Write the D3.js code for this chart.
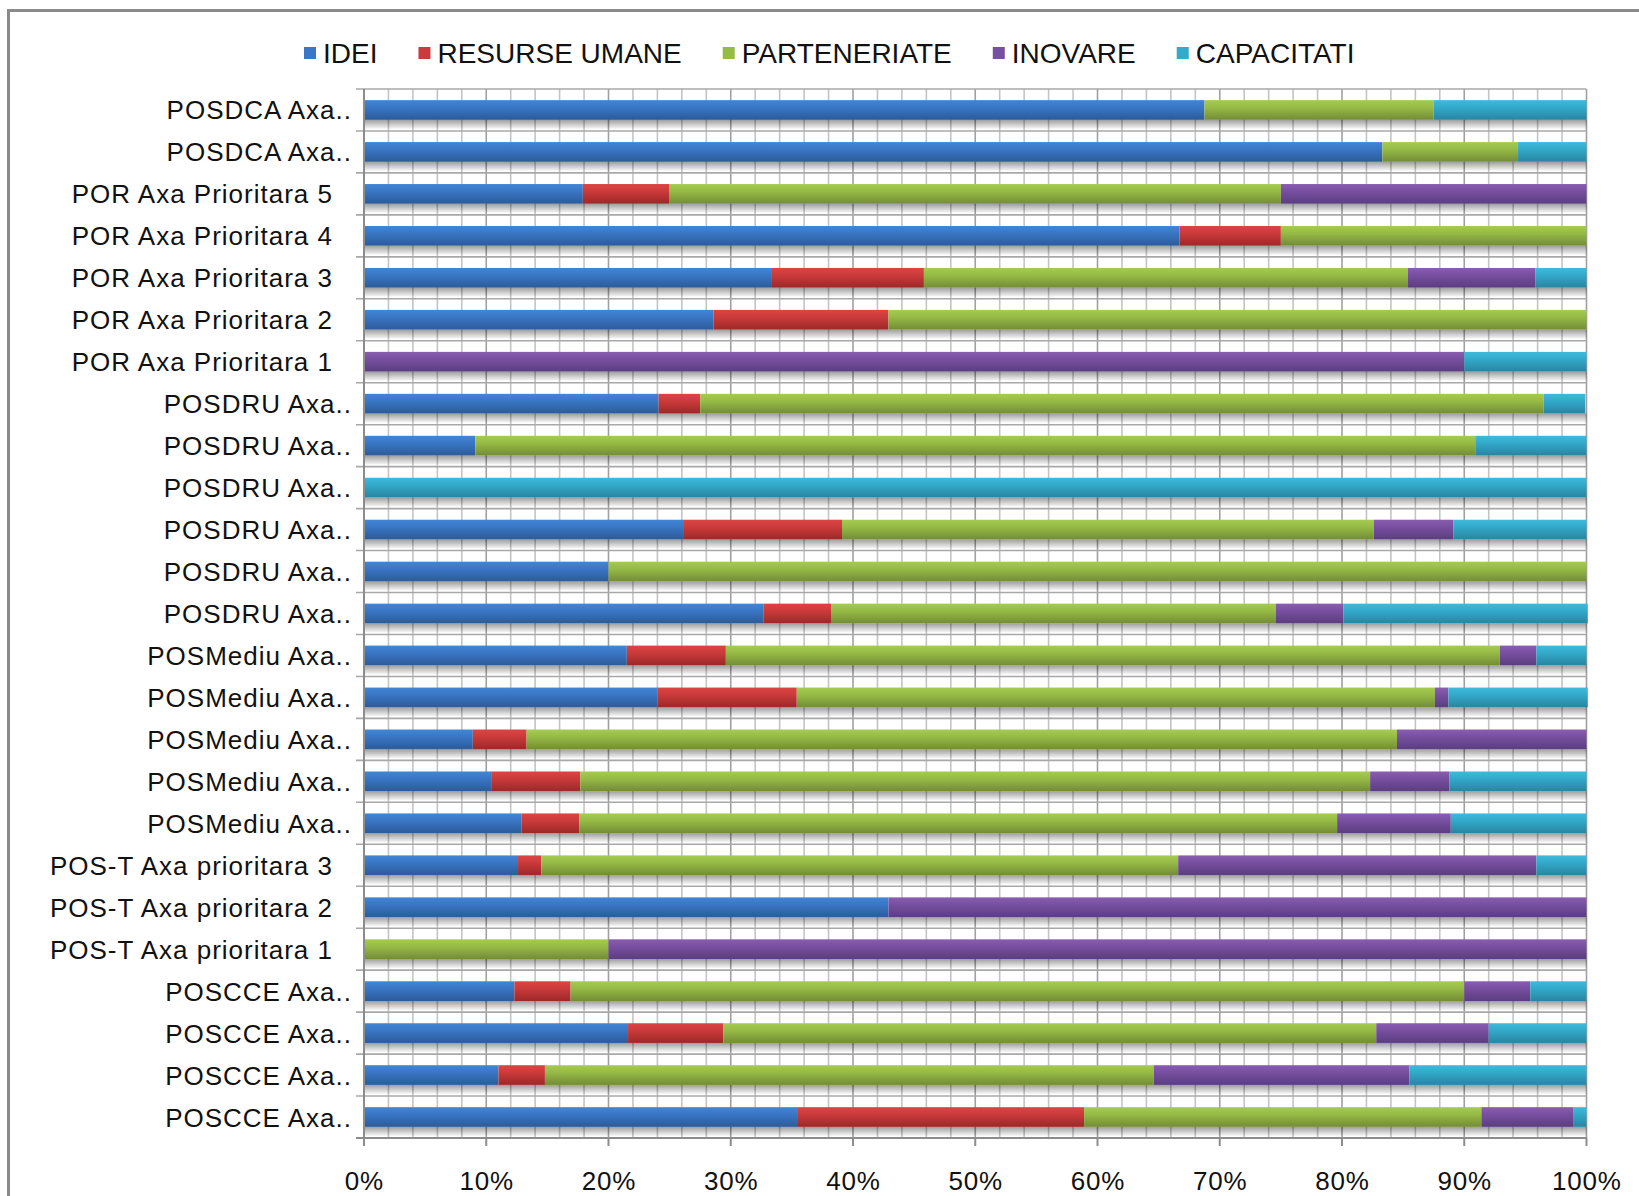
<!DOCTYPE html>
<html><head><meta charset="utf-8">
<script src="https://cdn.jsdelivr.net/npm/d3@7"></script>
<style>
html,body{margin:0;padding:0;background:#fff;}
svg{display:block;}
text{font-family:"Liberation Sans",Arial,sans-serif;fill:#111;}
</style></head>
<body><svg id="chart" width="1639" height="1196"></svg>
<script>
const categories = [
  "POSDCA Axa..","POSDCA Axa..","POR Axa Prioritara 5","POR Axa Prioritara 4","POR Axa Prioritara 3",
  "POR Axa Prioritara 2","POR Axa Prioritara 1","POSDRU Axa..","POSDRU Axa..","POSDRU Axa..",
  "POSDRU Axa..","POSDRU Axa..","POSDRU Axa..","POSMediu Axa..","POSMediu Axa..",
  "POSMediu Axa..","POSMediu Axa..","POSMediu Axa..","POS-T Axa prioritara 3","POS-T Axa prioritara 2",
  "POS-T Axa prioritara 1","POSCCE Axa..","POSCCE Axa..","POSCCE Axa..","POSCCE Axa.."
];
const seriesNames = ["IDEI","RESURSE UMANE","PARTENERIATE","INOVARE","CAPACITATI"];
const idei          = [68.75,83.3,17.9,66.7,33.3,28.6,0,24.1,9.1,0,26.1,20,32.7,21.5,24.0,8.9,10.4,12.9,12.6,42.9,0,12.3,21.6,11.0,35.5];
const resurseUmane  = [0,0,7.1,8.3,12.5,14.3,0,3.4,0,0,13.0,0,5.5,8.1,11.4,4.4,7.3,4.7,1.9,0,0,4.6,7.8,3.8,23.4];
const parteneriate  = [18.75,11.1,50,25,39.6,57.1,0,69.0,81.8,0,43.5,80,36.4,63.3,52.2,71.2,64.6,62.0,52.1,0,20,73.1,53.4,49.8,32.5];
const inovare       = [0,0,25,0,10.4,0,90,0,0,0,6.5,0,5.5,3.0,1.1,15.5,6.5,9.3,29.3,57.1,80,5.4,9.2,20.9,7.5];
const capacitati    = [12.5,5.6,0,0,4.2,0,10,3.4,9.1,100,10.9,0,20,4.1,11.4,0,11.2,11.1,4.1,0,0,4.6,8.0,14.5,1.1];
const xTicks = [0,10,20,30,40,50,60,70,80,90,100];

const colors = {
  "IDEI":["#4186d6","#3a77c6","#2c5b98"],
  "RESURSE UMANE":["#dd4444","#cc3b3b","#9c2828"],
  "PARTENERIATE":["#a6cb52","#97bc46","#738c36"],
  "INOVARE":["#8a5db1","#7850a1","#5b3d80"],
  "CAPACITATI":["#3fbadb","#33aacb","#2885a1"]
};
const legendColors = {"IDEI":"#3a77c6","RESURSE UMANE":"#cc3b3b","PARTENERIATE":"#97bc46","INOVARE":"#7850a1","CAPACITATI":"#33aacb"};

const svg = d3.select("#chart");
const defs = svg.append("defs");
seriesNames.forEach((s,i)=>{
  const g = defs.append("linearGradient").attr("id","g"+i).attr("x1",0).attr("y1",0).attr("x2",0).attr("y2",1);
  g.append("stop").attr("offset","0%").attr("stop-color",colors[s][0]);
  g.append("stop").attr("offset","35%").attr("stop-color",colors[s][1]);
  g.append("stop").attr("offset","100%").attr("stop-color",colors[s][2]);
});
const sh = defs.append("linearGradient").attr("id","shadow").attr("x1",0).attr("y1",0).attr("x2",0).attr("y2",1);
sh.append("stop").attr("offset","0%").attr("stop-color","#000").attr("stop-opacity",0.38);
sh.append("stop").attr("offset","100%").attr("stop-color","#000").attr("stop-opacity",0.03);

// outer border
svg.append("rect").attr("x",8.5).attr("y",10.5).attr("width",1700).attr("height",1300)
  .attr("fill","none").attr("stroke","#8a8a8a").attr("stroke-width",3);

const pLeft=364, pRight=1586.5, pTop=89, pBottom=1138;
const x = d3.scaleLinear().domain([0,100]).range([pLeft,pRight]);
const y = d3.scaleBand().domain(d3.range(categories.length)).range([pTop,pBottom]).paddingInner(0.53).paddingOuter(0.265);
const step = y.step();

// gridlines vertical
const minor = d3.range(0,101,2);
svg.append("g").selectAll("line").data(minor).join("line")
  .attr("x1",d=>x(d)).attr("x2",d=>x(d)).attr("y1",pTop).attr("y2",pBottom)
  .attr("stroke",d=>d%10===0?"#a0a0a0":"#c4c4c4").attr("stroke-width",1.6);
// horizontal gridlines at band boundaries
const bounds = d3.range(categories.length+1).map(i=>pTop+i*step);
svg.append("g").selectAll("line").data(bounds).join("line")
  .attr("x1",pLeft-8).attr("x2",pRight).attr("y1",d=>d).attr("y2",d=>d)
  .attr("stroke","#a8a8a8").attr("stroke-width",1.6);

// data table
const table = categories.map((c,i)=>({i, "IDEI":idei[i],"RESURSE UMANE":resurseUmane[i],"PARTENERIATE":parteneriate[i],"INOVARE":inovare[i],"CAPACITATI":capacitati[i]}));
const stack = d3.stack().keys(seriesNames)(table);

// shadows
svg.append("g").selectAll("rect").data(table).join("rect")
  .attr("x",x(0)).attr("width",x(100)-x(0))
  .attr("y",d=>y(d.i)+y.bandwidth()).attr("height",9)
  .attr("fill","url(#shadow)");

// bars
stack.forEach((layer,si)=>{
  svg.append("g").selectAll("rect").data(layer.filter(d=>d[1]-d[0]>0)).join("rect")
    .attr("x",d=>x(d[0])).attr("width",d=>x(d[1])-x(d[0]))
    .attr("y",d=>y(d.data.i)).attr("height",y.bandwidth())
    .attr("fill","url(#g"+si+")");
});

// axes lines
svg.append("line").attr("x1",pLeft).attr("x2",pLeft).attr("y1",pTop).attr("y2",pBottom+8).attr("stroke","#8c8c8c").attr("stroke-width",2);
svg.append("line").attr("x1",pLeft-8).attr("x2",pRight).attr("y1",pBottom).attr("y2",pBottom).attr("stroke","#8c8c8c").attr("stroke-width",2);
svg.append("g").selectAll("line").data(xTicks).join("line")
  .attr("x1",d=>x(d)).attr("x2",d=>x(d)).attr("y1",pBottom).attr("y2",pBottom+8)
  .attr("stroke","#8c8c8c").attr("stroke-width",2);

// x tick labels
svg.append("g").selectAll("text").data(xTicks).join("text")
  .attr("x",d=>x(d)+0.4).attr("y",1190).attr("text-anchor","middle")
  .style("font-size","26px").style("letter-spacing","0.8px")
  .text(d=>d+"%");

// category labels
svg.append("g").selectAll("text").data(categories).join("text")
  .attr("x",d=>d.endsWith("..")?352:333)
  .attr("y",(d,i)=>y(i)+y.bandwidth()/2+9.5)
  .attr("text-anchor","end")
  .style("font-size","26px").style("letter-spacing","1px")
  .text(d=>d);

// legend
const lg = svg.append("g");
let lx = 304;
seriesNames.forEach(s=>{
  lg.append("rect").attr("x",lx).attr("y",47).attr("width",12).attr("height",12).attr("fill",legendColors[s]);
  const t = lg.append("text").attr("x",lx+19).attr("y",63).style("font-size","28px").text(s);
  lx += 19 + t.node().getComputedTextLength() + 41;
});
</script></body></html>
